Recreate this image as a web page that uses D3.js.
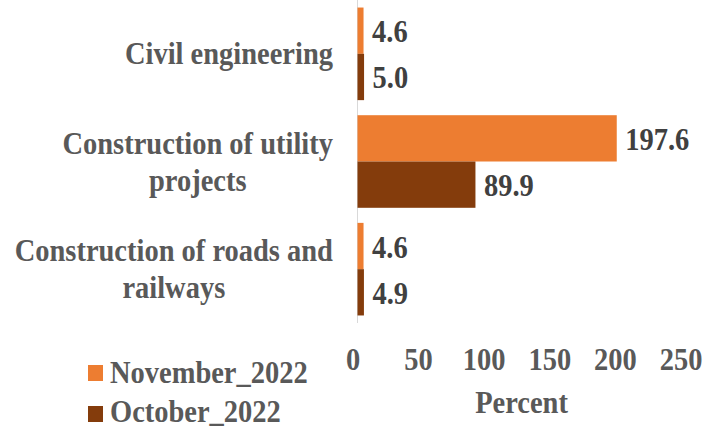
<!DOCTYPE html>
<html>
<head>
<meta charset="utf-8">
<script src="https://cdn.jsdelivr.net/npm/d3@7"></script>
<style>
  html, body { margin: 0; padding: 0; background: #fff; }
  svg text { font-family: "Liberation Serif", "Times New Roman", serif; font-weight: bold; }
</style>
</head>
<body>
<svg id="chart" width="719" height="428"></svg>
<script>
const categories = ["Civil engineering", "Construction of utility projects", "Construction of roads and railways"];
const seriesNames = ["November_2022", "October_2022"];
const november2022 = [4.6, 197.6, 4.6];
const october2022 = [5.0, 89.9, 4.9];
const xTicks = [0, 50, 100, 150, 200, 250];
const xTitle = "Percent";
const colors = ["#ED7D31", "#843C0C"];

const SX = 0.89;       // horizontal condensation of the serif font
const FS = 32;

const svg = d3.select("#chart");
const x = d3.scaleLinear().domain([0, 250]).range([357.5, 685.5]);
const y = d3.scaleBand().domain(categories).range([0, 323]).paddingInner(0.14).paddingOuter(0.07);
const y1 = d3.scaleBand().domain(seriesNames).range([0, y.bandwidth()]);

const series = [november2022, october2022];

// axis line
svg.append("line")
  .attr("x1", x(0)).attr("x2", x(0))
  .attr("y1", 0).attr("y2", 323)
  .attr("stroke", "#d9d9d9").attr("stroke-width", 1);

// bars
categories.forEach((c, i) => {
  seriesNames.forEach((s, j) => {
    const v = series[j][i];
    svg.append("rect")
      .attr("x", x(0))
      .attr("y", y(c) + y1(s))
      .attr("width", x(v) - x(0))
      .attr("height", y1.bandwidth())
      .attr("fill", colors[j]);
    svg.append("text")
      .attr("transform", `translate(${x(v) + 8.5},${y(c) + y1(s) + y1.bandwidth() / 2 + 11.5}) scale(${SX},1)`)
      .attr("font-size", FS)
      .attr("fill", "#404040")
      .text(d3.format(".1f")(v));
  });
});

// category labels with wrapping
const maxW = 330;
const lineH = 37;
categories.forEach((c) => {
  const words = c.split(" ");
  const tmp = svg.append("text").attr("font-size", FS);
  const lines = [];
  let cur = [];
  words.forEach(w => {
    const test = cur.concat([w]).join(" ");
    tmp.text(test);
    if (tmp.node().getComputedTextLength() * SX > maxW && cur.length) {
      lines.push(cur.join(" "));
      cur = [w];
    } else cur.push(w);
  });
  lines.push(cur.join(" "));
  const widths = lines.map(l => { tmp.text(l); return tmp.node().getComputedTextLength() * SX; });
  tmp.remove();
  const blockW = d3.max(widths);
  const cx = 333 - blockW / 2;
  const cy = y(c) + y.bandwidth() / 2;
  lines.forEach((l, k) => {
    const by = cy + 10.5 + (k - (lines.length - 1) / 2) * lineH;
    svg.append("text")
      .attr("transform", `translate(${cx},${by}) scale(${SX},1)`)
      .attr("text-anchor", "middle")
      .attr("font-size", FS)
      .attr("fill", "#595959")
      .text(l);
  });
});

// x tick labels
xTicks.forEach(t => {
  svg.append("text")
    .attr("transform", `translate(${x(t) - 4.5},370) scale(${SX},1)`)
    .attr("text-anchor", "middle")
    .attr("font-size", FS)
    .attr("fill", "#595959")
    .text(t);
});

// x title
svg.append("text")
  .attr("transform", `translate(521.5,413) scale(${SX},1)`)
  .attr("text-anchor", "middle")
  .attr("font-size", FS)
  .attr("fill", "#595959")
  .text(xTitle);

// legend
const legendY = [365, 406];
const legendBase = [383, 421.5];
seriesNames.forEach((s, j) => {
  svg.append("rect")
    .attr("x", 88).attr("y", legendY[j])
    .attr("width", 15).attr("height", 16)
    .attr("fill", colors[j]);
  svg.append("text")
    .attr("transform", `translate(110,${legendBase[j]}) scale(${SX},1)`)
    .attr("font-size", FS)
    .attr("fill", "#595959")
    .text(s);
});
</script>
</body>
</html>
